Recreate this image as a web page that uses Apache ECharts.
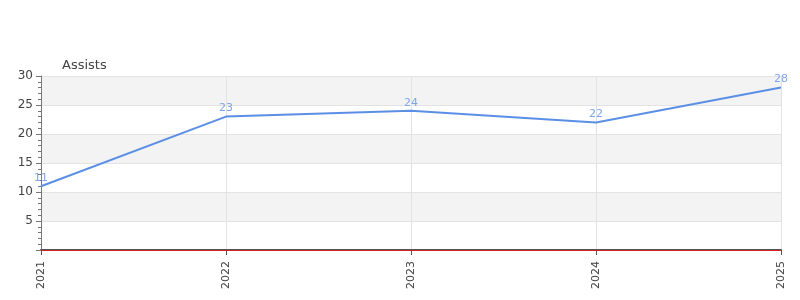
<!DOCTYPE html>
<html><head><meta charset="utf-8">
<script src="https://cdn.jsdelivr.net/npm/echarts@6/dist/echarts.min.js"></script>
<style>html,body{margin:0;padding:0;background:#fff}#c{width:800px;height:300px}</style>
</head><body><div id="c"></div>
<script>
const categories = ['2021','2022','2023','2024','2025'];
const assists = [11, 23, 24, 22, 28];
const yTicks = [0, 5, 10, 15, 20, 25, 30];

const chart = echarts.init(document.getElementById('c'), null, {renderer:'canvas'});
chart.setOption({
  animation: false,
  textStyle: {fontFamily: 'DejaVu Sans'},
  grid: {left: 41, right: 19, top: 76, bottom: 50},
  xAxis: {
    type: 'category', data: categories, boundaryGap: false,
    axisLine: {lineStyle: {color: '#555', width: 2}},
    axisTick: {show: true, alignWithLabel: true, lineStyle: {color: '#555'}},
    axisLabel: {rotate: 90, color: '#444', fontSize: 11, margin: 11},
    splitLine: {show: true, lineStyle: {color: '#e3e3e3'}}
  },
  yAxis: {
    type: 'value', min: yTicks[0], max: yTicks[yTicks.length-1], interval: 5,
    name: 'Assists', nameLocation: 'end', nameGap: 4,
    nameTextStyle: {color: '#444', fontSize: 13, align: 'left', padding: [0,0,0,21]},
    axisLine: {show: true, lineStyle: {color: '#777'}},
    axisTick: {show: true, lineStyle: {color: '#777'}},
    minorTick: {show: true, splitNumber: 5, length: 3, lineStyle: {color: '#777'}},
    axisLabel: {color: '#444', fontSize: 12, showMinLabel: false},
    splitLine: {show: true, lineStyle: {color: '#e3e3e3'}},
    splitArea: {show: true, areaStyle: {color: ['#ffffff', '#f3f3f3']}}
  },
  series: [{
    type: 'line', data: assists, symbol: 'circle', symbolSize: 1, showSymbol: true,
    lineStyle: {color: '#5b8fe6', width: 2},
    itemStyle: {color: '#5b8fe6', opacity: 0},
    label: {show: true, position: 'top', color: '#7ea5ea', fontSize: 11, distance: 2, opacity: 1},
    markLine: {
      silent: true, symbol: 'none', label: {show: false},
      lineStyle: {color: '#d42020', type: 'solid', width: 1},
      data: [{yAxis: 0}]
    }
  }]
});
</script></body></html>
